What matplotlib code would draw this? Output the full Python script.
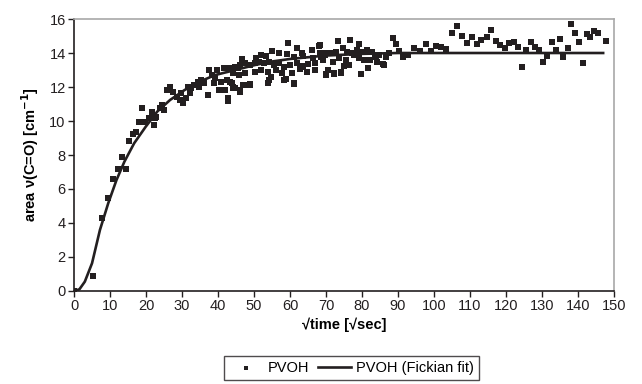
import matplotlib.pyplot as plt

plt.rcParams['font.family'] = ['Liberation Sans', 'DejaVu Sans']

# measured points (sqrt time, area)
pvoh_x = [0, 5.3, 7.7, 9.4, 10.8, 12.1, 13.3, 14.4, 15.4, 16.4, 17.3, 18.0, 18.9, 19.6,
          20.8, 21.8, 22.3, 22.9, 22.6, 24.0, 24.4, 24.9, 25.8, 26.7, 27.6, 28.5, 29.4,
          29.8, 30.3, 31.2, 31.6, 32.1, 32.5, 33.4, 34.4, 34.8, 35.3, 36.2, 37.1, 37.5,
          38.4, 38.9, 39.3, 39.8, 40.2, 40.7, 41.6, 42.0, 42.5, 42.9, 43.4, 43.9, 44.3,
          44.8, 45.6, 46.1, 43.4, 43.9, 44.8, 46.1, 47.5, 48.8, 50.2, 51.5, 52.9, 54.2,
          55.6, 57.0, 58.3, 60.1, 61.9, 63.3, 65.1, 66.9, 44.3, 45.7, 47.5, 50.2, 52.0,
          53.8, 56.1, 57.9, 60.6, 62.8, 64.6, 66.9, 70.1, 47.0, 48.8, 54.2, 54.7, 58.3,
          61.0, 46.1, 44.3, 46.6, 50.6, 52.0, 53.3, 55.0, 57.0, 59.2, 61.0, 63.7, 66.5,
          68.7, 59.5, 61.9, 63.3, 66.0, 68.0, 69.6, 53.8, 58.8, 61.0, 63.7, 47.5, 48.8,
          46.1, 42.9, 44.3, 68.3, 73.2, 76.8, 79.1, 89.5, 68.3, 69.6, 71.4, 72.8, 74.6,
          75.9, 77.3, 78.6, 80.0, 81.4, 82.7, 83.6, 91.3, 69.2, 71.9, 73.7, 75.5, 77.7,
          79.1, 80.5, 82.3, 84.1, 85.9, 75.0, 76.4, 81.8, 70.5, 70.1, 72.3, 74.3, 79.7,
          72.3, 74.1, 79.6, 81.8, 83.8, 86.2, 84.8, 86.8, 87.5, 88.5, 90.2, 92.9, 94.5,
          96.0, 97.7, 99.2, 100.6, 101.9, 103.4, 104.9, 106.4, 107.8, 109.1, 110.5,
          111.9, 113.2, 114.6, 115.8, 117.1, 118.4, 119.7, 120.9, 122.2, 123.3, 124.5,
          125.7, 126.9, 128.0, 129.3, 130.3, 131.4, 132.7, 133.8, 134.9, 135.9, 137.1,
          138.1, 139.3, 140.4, 141.4, 142.4, 143.3, 144.4, 145.6, 147.8]
pvoh_y = [0, 0.88, 4.29, 5.47, 6.57, 7.16, 7.86, 7.16, 8.82, 9.24, 9.35, 9.96, 10.75, 9.96,
          10.16, 10.53, 9.76, 10.22, 10.16, 10.75, 10.94, 10.65, 11.82, 12.02, 11.72, 11.43,
          11.24, 11.63, 11.04, 11.34, 12.02, 11.63, 11.92, 12.12, 12.31, 12.02, 12.41, 12.22,
          11.53, 13.0, 12.71, 12.22, 12.51, 13.0, 11.82, 12.31, 13.1, 11.82, 12.41, 11.34,
          12.31, 12.22, 12.81, 11.92, 13.1, 11.82, 13.1, 13.1, 13.19, 13.29, 13.39, 13.29,
          13.39, 13.49, 13.39, 13.49, 13.29, 13.39, 13.19, 13.29, 13.39, 13.23, 13.35, 13.43,
          12.8, 12.7, 12.8, 12.9, 13.0, 12.9, 13.0, 12.8, 12.8, 13.04, 12.9, 13.0, 12.7,
          12.12, 12.17, 12.41, 12.6, 12.41, 12.21, 11.72, 12.0, 13.63, 13.68, 13.88, 13.82,
          14.13, 14.02, 13.94, 13.78, 13.82, 13.68, 13.78, 14.6, 14.27, 14.02, 14.17, 14.41,
          13.98, 12.25, 12.45, 12.18, 13.2, 12.1, 12.1, 11.76, 11.18, 11.92, 14.47, 14.7,
          14.76, 14.52, 14.52, 13.98, 13.88, 13.98, 14.07, 14.27, 14.07, 13.98, 14.17, 14.07,
          14.17, 14.07, 13.88, 13.78, 13.58, 13.49, 13.68, 13.58, 13.88, 13.68, 13.58, 13.58,
          13.49, 13.35, 13.23, 13.29, 13.09, 13.0, 12.74, 12.74, 12.8, 12.74, 12.8, 12.9,
          12.75, 13.1, 13.78, 13.3, 13.9, 13.75, 14.0, 14.9, 14.1, 13.88, 14.32, 14.14,
          14.53, 14.14, 14.41, 14.33, 14.22, 15.16, 15.59, 15.0, 14.57, 14.96, 14.53, 14.77,
          14.96, 15.35, 14.73, 14.47, 14.28, 14.57, 14.67, 14.33, 13.16, 14.18, 14.67, 14.33,
          14.18, 13.45, 13.83, 14.67, 14.18, 14.82, 13.79, 14.28, 15.71, 15.16, 14.67, 13.39,
          15.12, 14.96, 15.32, 15.2, 14.71]

# Fickian fit
fit_x = [0, 1.5, 3, 5, 7.2, 9.5, 11.8, 14, 16.7, 19.9, 23.1, 26.7, 30.7, 34.8, 39.3,
         44.8, 50.2, 55, 60, 70, 80, 90, 100, 120, 147]
fit_y = [0, 0.1, 0.55, 1.63, 3.59, 5.16, 6.53, 7.61, 8.69, 9.66, 10.55, 11.24, 11.82,
         12.31, 12.71, 13.0, 13.29, 13.5, 13.65, 13.85, 13.95, 14.0, 14.0, 14.0, 14.0]

fig = plt.figure(figsize=(6.42, 3.84), dpi=100)
ax = fig.add_axes([0.1153, 0.2422, 0.841, 0.7083])

ax.scatter(pvoh_x, pvoh_y, marker='s', s=17, color='#231f20', linewidths=0,
           label='PVOH', zorder=3)
ax.plot(fit_x, fit_y, color='#231f20', lw=1.9, label='PVOH (Fickian fit)', zorder=2)

ax.set_xlim(0, 150)
ax.set_ylim(0, 16)
ax.set_xticks(range(0, 151, 10))
ax.set_yticks(range(0, 17, 2))
ax.tick_params(direction='out', length=4, width=1, pad=2, labelsize=10.5, colors='#231f20')

for side in ['top', 'right']:
    ax.spines[side].set_color('#a8a8a8')
    ax.spines[side].set_linewidth(1.2)
for side in ['left', 'bottom']:
    ax.spines[side].set_color('#231f20')
    ax.spines[side].set_linewidth(1.2)

ax.set_xlabel('\u221atime [\u221asec]', fontsize=10.5, fontweight='bold', labelpad=3)
ax.set_ylabel('area \u03bd(C=O) [cm$^{\\mathbf{-1}}$]', fontsize=10.5, fontweight='bold',
              labelpad=6)

leg = fig.legend(loc='center', bbox_to_anchor=(0.5475, 0.042), ncol=2, fontsize=10.5,
                 frameon=True, fancybox=False, handlelength=2.3, handletextpad=0.3,
                 columnspacing=0.6, borderpad=0.35, markerscale=0.75)
leg.get_frame().set_edgecolor('#231f20')
leg.get_frame().set_linewidth(1.0)

plt.savefig('out.png', dpi=100)
